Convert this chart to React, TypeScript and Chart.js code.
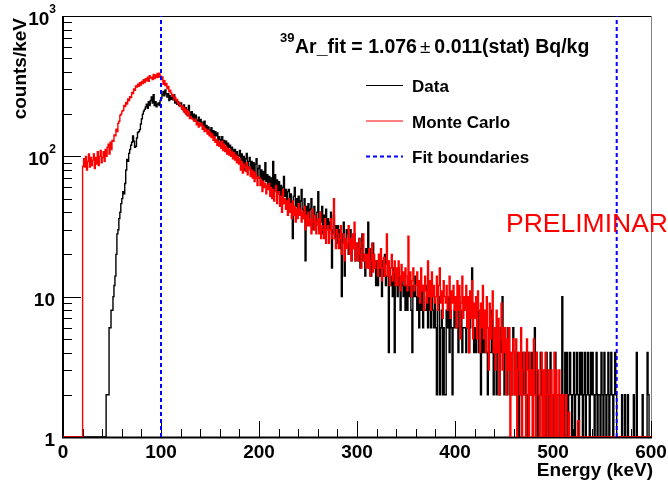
import React, { useEffect, useRef } from 'react';
import { Chart, registerables } from 'chart.js';

Chart.register(...registerables);

// ---- Histogram binning (keV) ----
const ENERGY_MIN_KEV = 0;
const BIN_WIDTH_KEV = 1;

// ---- Data (black), counts/keV per 1 keV bin, 0..599 keV ----
const DATA_COUNTS: number[] = [
  0, 0, 0, 0, 0, 0, 0, 0, 0, 0,
  0, 0, 0, 0, 0, 0, 0, 0, 0, 0,
  0, 0, 0, 0, 0, 0, 0, 0, 0, 0,
  0, 0, 0, 0, 0, 0, 0, 0, 0, 0,
  0, 0, 0, 0, 2, 2, 2, 6, 6, 8,
  8, 10, 12, 14, 20, 28, 30, 36, 40, 46,
  50, 56, 54, 64, 80, 95, 92, 105, 112, 120,
  126, 140, 128, 116, 118, 135, 148, 150, 155, 170,
  185, 200, 210, 216, 225, 235, 220, 245, 230, 250,
  265, 240, 275, 230, 245, 225, 235, 240, 230, 250,
  260, 275, 290, 270, 297, 280, 265, 280, 250, 270,
  255, 262, 253, 275, 240, 250, 235, 245, 230, 240,
  240, 228, 215, 232, 205, 222, 198, 214, 230, 206,
  195, 208, 186, 200, 178, 196, 182, 170, 190, 176,
  183, 168, 175, 160, 178, 158, 166, 150, 162, 155,
  148, 160, 142, 152, 136, 150, 140, 147, 128, 138,
  132, 125, 138, 118, 130, 122, 128, 112, 124, 116,
  120, 108, 116, 111, 104, 112, 98, 108, 102, 100,
  110, 90, 104, 86, 100, 80, 96, 105, 84, 92,
  98, 80, 92, 76, 90, 74, 88, 96, 72, 82,
  86, 70, 80, 64, 78, 68, 90, 66, 74, 62,
  72, 60, 70, 58, 92, 56, 74, 62, 68, 54,
  66, 50, 62, 46, 60, 72, 52, 58, 44, 56,
  58, 46, 54, 40, 26, 52, 60, 44, 50, 42,
  52, 40, 48, 58, 42, 36, 50, 18, 44, 38,
  46, 34, 42, 50, 36, 30, 44, 38, 32, 40,
  56, 30, 40, 34, 44, 28, 38, 32, 42, 30,
  36, 28, 34, 40, 16, 30, 38, 26, 32, 24,
  32, 26, 30, 22, 10, 28, 34, 14, 24, 30,
  28, 20, 26, 30, 18, 24, 22, 28, 18, 24,
  24, 18, 26, 16, 22, 28, 18, 20, 14, 22,
  20, 34, 16, 22, 14, 20, 24, 16, 18, 12,
  18, 12, 20, 14, 16, 10, 18, 14, 20, 12,
  14, 18, 4, 16, 12, 14, 10, 16, 4, 12,
  14, 10, 16, 12, 8, 14, 12, 10, 14, 8,
  12, 8, 14, 10, 12, 8, 4, 12, 10, 14,
  10, 8, 12, 6, 10, 8, 12, 6, 10, 8,
  8, 12, 6, 10, 8, 6, 10, 8, 6, 10,
  6, 2, 8, 10, 2, 6, 8, 2, 6, 2,
  2, 8, 6, 10, 4, 8, 6, 2, 6, 8,
  6, 8, 6, 4, 10, 6, 8, 4, 6, 6,
  6, 4, 8, 6, 4, 6, 8, 16, 6, 4,
  6, 4, 6, 8, 4, 6, 2, 6, 4, 6,
  4, 6, 4, 2, 6, 4, 4, 8, 4, 2,
  4, 6, 2, 4, 4, 2, 6, 4, 10, 4,
  2, 4, 4, 2, 6, 4, 2, 4, 2, 6,
  4, 2, 4, 2, 4, 0, 2, 4, 2, 4,
  2, 4, 2, 0, 2, 4, 2, 2, 4, 0,
  2, 6, 2, 4, 0, 2, 2, 4, 2, 0,
  2, 2, 0, 4, 2, 0, 2, 4, 2, 2,
  0, 2, 4, 2, 0, 2, 2, 0, 2, 10,
  2, 0, 4, 2, 4, 0, 2, 4, 2, 0,
  2, 4, 0, 2, 4, 2, 0, 4, 2, 4,
  0, 2, 4, 0, 2, 4, 2, 0, 4, 2,
  4, 2, 0, 2, 4, 0, 2, 2, 0, 4,
  2, 0, 4, 2, 0, 2, 4, 0, 2, 4,
  2, 0, 2, 4, 2, 0, 0, 0, 0, 0,
  2, 0, 0, 2, 0, 0, 2, 0, 0, 0,
  0, 0, 2, 0, 0, 4, 0, 0, 0, 0,
  0, 2, 0, 0, 0, 0, 4, 2, 0, 0,
];

// ---- Monte Carlo (red), counts/keV per 1 keV bin, 0..599 keV ----
const MC_COUNTS: number[] = [
  0, 0, 0, 0, 0, 0, 0, 0, 0, 0,
  0, 0, 0, 0, 0, 0, 0, 0, 0, 0,
  85, 96, 84, 100, 80, 92, 104, 84, 98, 86,
  94, 104, 82, 98, 88, 108, 86, 100, 110, 90,
  98, 108, 92, 112, 100, 116, 122, 104, 126, 112,
  130, 128, 142, 140, 156, 150, 172, 178, 196, 200,
  210, 212, 230, 226, 242, 236, 256, 250, 266, 262,
  285, 280, 302, 296, 318, 312, 326, 315, 335, 322,
  342, 330, 352, 336, 358, 345, 366, 342, 376, 362,
  366, 352, 384, 358, 380, 364, 390, 366, 392, 374,
  352, 368, 326, 346, 320, 330, 304, 315, 288, 296,
  282, 268, 275, 256, 264, 248, 254, 236, 242, 226,
  230, 216, 228, 208, 220, 200, 214, 194, 206, 186,
  192, 186, 184, 180, 178, 184, 168, 176, 162, 172,
  165, 172, 156, 164, 150, 158, 152, 144, 154, 140,
  148, 136, 144, 130, 138, 126, 132, 120, 128, 118,
  126, 114, 128, 110, 122, 108, 118, 104, 114, 102,
  112, 100, 108, 96, 106, 94, 102, 90, 100, 88,
  96, 80, 92, 76, 88, 84, 78, 90, 74, 82,
  84, 72, 80, 70, 78, 66, 76, 70, 62, 72,
  70, 62, 68, 56, 66, 60, 64, 54, 62, 58,
  64, 52, 60, 50, 58, 48, 56, 62, 46, 54,
  56, 44, 52, 40, 58, 46, 50, 42, 48, 38,
  50, 40, 46, 36, 48, 38, 44, 34, 42, 36,
  46, 38, 42, 34, 40, 36, 44, 30, 38, 32,
  40, 32, 36, 28, 42, 34, 30, 38, 28, 34,
  36, 28, 40, 26, 32, 30, 26, 36, 24, 30,
  32, 24, 30, 36, 26, 28, 50, 26, 22, 30,
  28, 22, 26, 32, 20, 24, 28, 18, 26, 22,
  24, 32, 20, 26, 18, 28, 22, 34, 18, 24,
  22, 18, 26, 20, 16, 24, 28, 18, 20, 16,
  20, 16, 22, 14, 18, 24, 15, 20, 16, 18,
  18, 14, 20, 16, 22, 13, 16, 19, 14, 17,
  28, 14, 18, 12, 16, 20, 13, 15, 18, 12,
  16, 12, 18, 14, 11, 17, 13, 15, 12, 16,
  14, 11, 27, 12, 15, 10, 13, 16, 11, 12,
  12, 15, 10, 13, 9, 16, 11, 12, 8, 14,
  11, 9, 18, 10, 13, 8, 15, 10, 12, 9,
  10, 14, 8, 12, 16, 9, 11, 7, 13, 10,
  9, 12, 8, 10, 14, 7, 11, 9, 12, 8,
  10, 6, 13, 8, 12, 5, 9, 14, 7, 10,
  8, 12, 6, 10, 4, 11, 7, 13, 5, 9,
  7, 10, 5, 11, 8, 4, 9, 6, 12, 5,
  8, 4, 10, 6, 3, 9, 5, 7, 11, 4,
  6, 3, 8, 4, 7, 2, 5, 9, 3, 6,
  4, 6, 2, 5, 3, 6, 0, 4, 2, 5,
  4, 2, 5, 0, 3, 4, 2, 6, 0, 3,
  4, 2, 0, 5, 3, 0, 4, 2, 3, 0,
  5, 2, 0, 4, 3, 2, 0, 3, 4, 0,
  3, 0, 4, 2, 0, 3, 2, 0, 3, 0,
  2, 4, 0, 3, 0, 2, 3, 0, 2, 0,
  2, 0, 0, 2, 0, 0, 1.5, 0, 0, 0,
  0, 0, 0, 0, 0, 1.3, 1.3, 0, 0, 0,
  0, 0, 0, 0, 0, 0, 0, 0, 0, 0,
  0, 0, 0, 0, 0, 0, 0, 0, 0, 0,
  0, 0, 0, 0, 0, 0, 0, 0, 0, 0,
  0, 0, 0, 0, 0, 0, 0, 0, 0, 0,
  0, 0, 0, 0, 0, 0, 0, 0, 0, 0,
  0, 0, 0, 0, 0, 0, 0, 0, 0, 0,
  0, 0, 0, 0, 0, 0, 0, 0, 0, 0,
];

// ---- Axes, boundaries, labels ----
const X_RANGE = [0, 600];
const Y_RANGE = [1, 1000];
const X_TICK_LABELS = [0, 100, 200, 300, 400, 500, 600];
const X_MINOR_STEP = 20;
const Y_DECADES = [1, 10, 100, 1000];
const FIT_BOUNDARIES_KEV = [100, 565];
const LEGEND_LABELS = ['Data', 'Monte Carlo', 'Fit boundaries'];
const X_TITLE = 'Energy (keV)';
const Y_TITLE = 'counts/keV';
const FIT_ISOTOPE = '39';
const FIT_LEFT = 'Ar_fit = 1.076';
const FIT_PM = '\u00b1';
const FIT_RIGHT = '0.011(stat) Bq/kg';
const WATERMARK = 'PRELIMINARY';

const COLOR_DATA = '#000000';
const COLOR_MC = '#ff0000';
const COLOR_FIT = '#0000ff';
const FONT_FAMILY = '"Liberation Sans", Arial, Helvetica, sans-serif';

function toSteps(counts: number[]) {
  const pts = counts.map((v, i) => ({
    x: ENERGY_MIN_KEV + i * BIN_WIDTH_KEV,
    y: v > 0 ? v : Y_RANGE[0],
  }));
  pts.push({ x: ENERGY_MIN_KEV + counts.length * BIN_WIDTH_KEV, y: pts[pts.length - 1].y });
  return pts;
}

const rootStylePlugin = {
  id: 'rootStyle',
  beforeDatasetsDraw(chart: any) {
    const { ctx, chartArea: a } = chart;
    const xs = chart.scales.x;
    const ys = chart.scales.y;
    ctx.save();
    ctx.lineWidth = 1;
    ctx.strokeStyle = '#000';
    ctx.beginPath();
    ctx.moveTo(a.left, a.top + 0.5);
    ctx.lineTo(a.right, a.top + 0.5);
    ctx.stroke();
    ctx.strokeStyle = '#808080';
    ctx.beginPath();
    ctx.moveTo(a.right + 0.5, a.top);
    ctx.lineTo(a.right + 0.5, a.bottom);
    ctx.stroke();
    ctx.strokeStyle = '#000';
    ctx.beginPath();
    for (let di = 0; di < Y_DECADES.length; di++) {
      const d = Y_DECADES[di];
      const py = Math.round(ys.getPixelForValue(d)) + 0.5;
      ctx.moveTo(a.left, py);
      ctx.lineTo(a.left + 18, py);
      if (di < Y_DECADES.length - 1) {
        for (let k = 2; k <= 9; k++) {
          const pk = Math.round(ys.getPixelForValue(d * k)) + 0.5;
          ctx.moveTo(a.left, pk);
          ctx.lineTo(a.left + 9, pk);
        }
      }
    }
    for (let e = X_RANGE[0]; e <= X_RANGE[1]; e += X_MINOR_STEP) {
      const px = Math.round(xs.getPixelForValue(e)) + 0.5;
      const len = e % 100 === 0 ? 16 : 8;
      ctx.moveTo(px, a.bottom);
      ctx.lineTo(px, a.bottom - len);
    }
    ctx.stroke();
    ctx.lineWidth = 2;
    ctx.beginPath();
    ctx.moveTo(a.left, a.top);
    ctx.lineTo(a.left, a.bottom + 1.5);
    ctx.moveTo(a.left - 1, a.bottom + 0.5);
    ctx.lineTo(a.right + 1, a.bottom + 0.5);
    ctx.stroke();
    ctx.restore();
  },
  afterDraw(chart: any) {
    const { ctx } = chart;
    const xs = chart.scales.x;
    const ys = chart.scales.y;
    ctx.save();
    ctx.fillStyle = '#000';
    ctx.textBaseline = 'alphabetic';

    const labelRight = 55;
    for (const d of Y_DECADES) {
      const py = ys.getPixelForValue(d);
      const exp = Math.round(Math.log10(d));
      ctx.textAlign = 'right';
      if (exp >= 2) {
        ctx.font = `bold 12px ${FONT_FAMILY}`;
        const sup = String(exp);
        const sw = ctx.measureText(sup).width;
        ctx.fillText(sup, labelRight + 1, py - 3);
        ctx.font = `bold 19px ${FONT_FAMILY}`;
        ctx.fillText('10', labelRight + 1 - sw, py + 9);
      } else {
        ctx.font = `bold 19px ${FONT_FAMILY}`;
        ctx.fillText(String(d), labelRight, py + 9);
      }
    }

    ctx.font = `bold 19px ${FONT_FAMILY}`;
    ctx.textAlign = 'center';
    for (const v of X_TICK_LABELS) {
      ctx.fillText(String(v), xs.getPixelForValue(v), 458);
    }

    ctx.textAlign = 'right';
    ctx.fillText(X_TITLE, 653, 476);

    ctx.save();
    ctx.translate(25.5, 18);
    ctx.rotate(-Math.PI / 2);
    ctx.textAlign = 'right';
    ctx.fillText(Y_TITLE, 0, 0);
    ctx.restore();

    ctx.textAlign = 'left';
    ctx.font = `bold 13px ${FONT_FAMILY}`;
    ctx.fillText(FIT_ISOTOPE, 280, 42);
    ctx.font = `bold 19.5px ${FONT_FAMILY}`;
    let tx = 295;
    ctx.fillText(FIT_LEFT, tx, 53);
    tx += ctx.measureText(FIT_LEFT).width + 3;
    ctx.font = `19px ${FONT_FAMILY}`;
    ctx.fillText(FIT_PM, tx, 53);
    tx += ctx.measureText(FIT_PM).width + 4;
    ctx.font = `bold 19.5px ${FONT_FAMILY}`;
    ctx.fillText(FIT_RIGHT, tx, 53);

    const legendYs = [85, 120.5, 156];
    const legendColors = [COLOR_DATA, COLOR_MC, COLOR_FIT];
    for (let i = 0; i < LEGEND_LABELS.length; i++) {
      const ly = legendYs[i];
      ctx.save();
      ctx.strokeStyle = legendColors[i];
      if (i === 2) {
        ctx.lineWidth = 2;
        ctx.setLineDash([4, 3]);
      } else {
        ctx.lineWidth = 1;
      }
      ctx.beginPath();
      ctx.moveTo(366, ly + 0.5);
      ctx.lineTo(403, ly + 0.5);
      ctx.stroke();
      ctx.restore();
      ctx.font = `bold 17px ${FONT_FAMILY}`;
      ctx.fillStyle = '#000';
      ctx.fillText(LEGEND_LABELS[i], 412, ly + 7);
    }

    ctx.font = `26.5px ${FONT_FAMILY}`;
    ctx.fillStyle = COLOR_MC;
    ctx.fillText(WATERMARK, 506, 232);
    ctx.restore();
  },
};

export default function App() {
  const ref = useRef<HTMLCanvasElement>(null);
  useEffect(() => {
    if (!ref.current) return;
    const fitSets = FIT_BOUNDARIES_KEV.map((e) => ({
      label: `fit ${e}`,
      data: [
        { x: e, y: Y_RANGE[0] },
        { x: e, y: Y_RANGE[1] },
      ],
      borderColor: COLOR_FIT,
      borderWidth: 2,
      borderDash: [4, 3],
      pointRadius: 0,
      fill: false,
      order: -1,
    }));
    const chart = new Chart(ref.current, {
      type: 'line',
      data: {
        datasets: [
          {
            label: 'Monte Carlo',
            data: toSteps(MC_COUNTS),
            borderColor: COLOR_MC,
            borderWidth: 1.4,
            stepped: true,
            pointRadius: 0,
            fill: false,
            order: 0,
          },
          {
            label: 'Data',
            data: toSteps(DATA_COUNTS),
            borderColor: COLOR_DATA,
            borderWidth: 1.4,
            stepped: true,
            pointRadius: 0,
            fill: false,
            order: 1,
          },
          ...fitSets,
        ] as any,
      },
      options: {
        responsive: false,
        animation: false,
        events: [],
        layout: { padding: { left: 63, right: 17, top: 16, bottom: 44 } },
        scales: {
          x: { type: 'linear', min: X_RANGE[0], max: X_RANGE[1], display: false },
          y: { type: 'logarithmic', min: Y_RANGE[0], max: Y_RANGE[1], display: false },
        },
        plugins: {
          legend: { display: false },
          tooltip: { enabled: false },
        },
      },
      plugins: [rootStylePlugin],
    });
    return () => chart.destroy();
  }, []);
  return (
    <div style={{ position: 'absolute', left: 0, top: 0, width: 668, height: 481, background: '#fff' }}>
      <canvas ref={ref} width={668} height={481} style={{ display: 'block', width: 668, height: 481 }} />
    </div>
  );
}
